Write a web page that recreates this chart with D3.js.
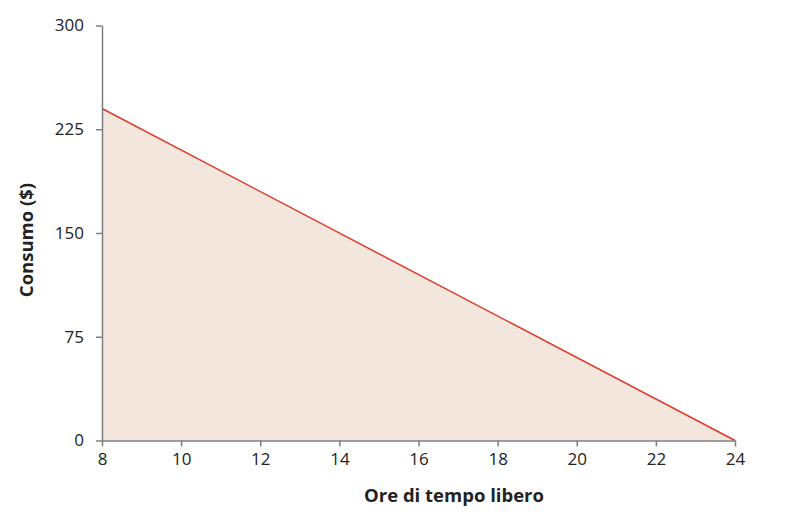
<!DOCTYPE html>
<html>
<head>
<meta charset="utf-8">
<script src="https://cdn.jsdelivr.net/npm/d3@7"></script>
<style>
    body { margin: 0; background: #fff; }
    svg { font-family: 'Open Sans', sans-serif; }
</style>
</head>
<body>
<div id="chart"></div>
<script>
// Chart data
var hours = [8, 24];
var consumption = [240, 0];
var xTicks = [8, 10, 12, 14, 16, 18, 20, 22, 24];
var yTicks = [0, 75, 150, 225, 300];

var width = 810,
    height = 521,
    margin = { top: 25.5, right: 75, bottom: 80.5, left: 102 };

var svg = d3.select('#chart')
    .append('svg')
    .attr('width', width)
    .attr('height', height);

var x = d3.scaleLinear().domain([8, 24]).range([margin.left, width - margin.right]);
var y = d3.scaleLinear().domain([0, 300]).range([height - margin.bottom, margin.top]);

var points = hours.map(function(h, i) { return { x: h, y: consumption[i] }; });

// Shaded area under the line
svg.append('path')
    .datum(points)
    .attr('d', d3.area()
        .x(function(d) { return x(d.x); })
        .y0(y(0))
        .y1(function(d) { return y(d.y); }))
    .style('fill', '#f3e6dc');

// Budget line
svg.append('path')
    .datum(points)
    .attr('d', d3.line()
        .x(function(d) { return x(d.x); })
        .y(function(d) { return y(d.y); }))
    .style('fill', 'none')
    .style('stroke', '#e03a28')
    .style('stroke-width', '1.5px');

// Axes
var xAxis = svg.append('g')
    .attr('transform', 'translate(0,' + y(0) + ')')
    .call(d3.axisBottom(x).tickValues(xTicks).tickSize(6).tickSizeOuter(0).tickFormat(d3.format('d')));

var yAxis = svg.append('g')
    .attr('transform', 'translate(' + x(8) + ',0)')
    .call(d3.axisLeft(y).tickValues(yTicks).tickSize(6).tickSizeOuter(0).tickFormat(d3.format('d')));

[xAxis, yAxis].forEach(function(ax) {
    ax.select('.domain').style('stroke', '#7f7f7f').style('stroke-width', '1.5px');
    ax.selectAll('.tick line').style('stroke', '#7f7f7f').style('stroke-width', '1.5px');
    ax.selectAll('.tick text')
        .style('font-family', "'Open Sans', sans-serif")
        .style('font-size', '17px')
        .style('fill', '#222');
});
xAxis.selectAll('.tick text').attr('y', 12).attr('dy', '0.71em');
yAxis.selectAll('.tick text').attr('x', -18);

// Axis titles
svg.append('text')
    .attr('x', 454)
    .attr('y', 502)
    .attr('text-anchor', 'middle')
    .text('Ore di tempo libero')
    .style('font-size', '18.5px')
    .style('font-weight', 'bold')
    .style('fill', '#222');

svg.append('text')
    .attr('transform', 'translate(33,240) rotate(-90)')
    .attr('text-anchor', 'middle')
    .text('Consumo ($)')
    .style('font-size', '18.5px')
    .style('font-weight', 'bold')
    .style('fill', '#222');
</script>
</body>
</html>
